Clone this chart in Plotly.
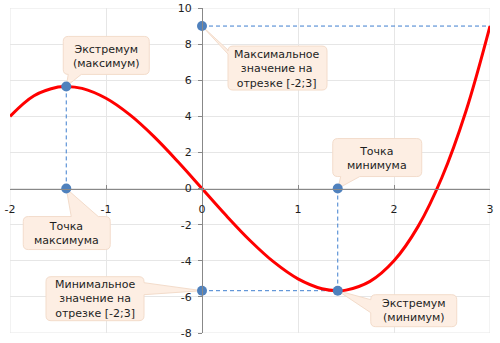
import plotly.graph_objects as go

# Sampled values of the plotted curve on [-2; 3]
curve_x = [-2.0, -1.75, -1.5, -1.414, -1.25, -1.0, -0.75, -0.5, -0.25, 0.0,
           0.25, 0.5, 0.75, 1.0, 1.25, 1.414, 1.5, 1.75, 2.0, 2.25, 2.5, 2.75, 3.0]
curve_y = [4.0, 5.141, 5.625, 5.657, 5.547, 5.0, 4.078, 2.875, 1.484, 0.0,
           -1.484, -2.875, -4.078, -5.0, -5.547, -5.657, -5.625, -5.141, -4.0,
           -2.109, 0.625, 4.297, 9.0]

# Key points
x_max, y_max = -1.414, 5.657      # local maximum
x_min, y_min = 1.414, -5.657      # local minimum
seg_max_x, seg_max_y = 3.0, 9.0   # largest value on the segment
seg_min_y = -5.657                # smallest value on the segment

x_ticks = [-2, -1, 0, 1, 2, 3]
x_tick_text = ["-2", "-1", "0", "1", "2", "3"]
y_ticks = [-8, -6, -4, -2, 0, 2, 4, 6, 8, 10]
y_tick_text = ["-8", "-6", "-4", "-2", "0", "2", "4", "6", "8", "10"]

# Callout texts
labels = {
    "ext_max": "Экстремум<br>(максимум)",
    "pt_max": "Точка<br>максимума",
    "pt_min": "Точка<br>минимума",
    "ext_min": "Экстремум<br>(минимум)",
    "seg_max": "Максимальное<br>значение на<br>отрезке [-2;3]",
    "seg_min": "Минимальное<br>значение на<br>отрезке [-2;3]",
}

BLUE = "#4f81bd"
DASH_BLUE = "#3f7fcf"
FILL = "#fdeee3"
EDGE = "#f3dccb"
TXT = "#1e1e1e"
FONT = "DejaVu Sans"

fig = go.Figure()

# Guide lines
dash = dict(color=DASH_BLUE, width=1, dash="4px,3px")
fig.add_trace(go.Scatter(x=[x_max, x_max], y=[y_max, 0], mode="lines", line=dash, hoverinfo="skip"))
fig.add_trace(go.Scatter(x=[x_min, x_min], y=[0, y_min], mode="lines", line=dash, hoverinfo="skip"))
fig.add_trace(go.Scatter(x=[0, seg_max_x], y=[seg_max_y, seg_max_y], mode="lines", line=dash, hoverinfo="skip"))
fig.add_trace(go.Scatter(x=[0, x_min], y=[seg_min_y, seg_min_y], mode="lines", line=dash, hoverinfo="skip"))

# Curve
fig.add_trace(go.Scatter(x=curve_x, y=curve_y, mode="lines",
                         line=dict(color="#ff0000", width=3, shape="spline", smoothing=1.0)))

# Marked points
pts_x = [x_max, x_max, x_min, x_min, 0, 0]
pts_y = [y_max, 0, 0, y_min, seg_max_y, seg_min_y]
fig.add_trace(go.Scatter(x=pts_x, y=pts_y, mode="markers",
                         marker=dict(color=BLUE, size=10)))


def bubble_path(x0, x1, y0, y1, side, t0, t1, r=5):
    """Rounded box (pixel offsets, y up) with a tail whose tip is at (0, 0)."""
    p = [f"M{x0 + r},{y1}"]
    if side == "top":
        p += [f"L{t0},{y1}", "L0,0", f"L{t1},{y1}"]
    p += [f"L{x1 - r},{y1}", f"Q{x1},{y1} {x1},{y1 - r}"]
    if side == "right":
        p += [f"L{x1},{t1}", "L0,0", f"L{x1},{t0}"]
    p += [f"L{x1},{y0 + r}", f"Q{x1},{y0} {x1 - r},{y0}"]
    if side == "bottom":
        p += [f"L{t1},{y0}", "L0,0", f"L{t0},{y0}"]
    p += [f"L{x0 + r},{y0}", f"Q{x0},{y0} {x0},{y0 + r}"]
    if side == "left":
        p += [f"L{x0},{t0}", "L0,0", f"L{x0},{t1}"]
    p += [f"L{x0},{y1 - r}", f"Q{x0},{y1} {x0 + r},{y1}", "Z"]
    return " ".join(p)


callouts = [
    # anchor x, anchor y, box (x0, x1, y0, y1), tail side, tail base, text offset, key
    (x_max, y_max, (-3, 83, 12, 50), "bottom", (2, 15), (40, 30), "ext_max"),
    (0, seg_max_y, (26, 125, -64, -20), "left", (-28, -24), (75, -43), "seg_max"),
    (x_min, 0, (-5, 84, 12, 50), "bottom", (3, 22), (39, 30), "pt_min"),
    (x_max, 0, (-43, 44, -61, -28), "top", (5, 32), (0, -45), "pt_max"),
    (0, seg_min_y, (-156, -58, -30, 14), "right", (-4, 8), (-107, -8), "seg_min"),
    (x_min, y_min, (33, 119, -36, -4), "left", (-22, -9), (76, -20), "ext_min"),
]

for ax_, ay_, (bx0, bx1, by0, by1), side, (t0, t1), (tx, ty), key in callouts:
    fig.add_shape(type="path", xref="x", yref="y",
                  xsizemode="pixel", ysizemode="pixel",
                  xanchor=ax_, yanchor=ay_,
                  path=bubble_path(bx0, bx1, by0, by1, side, t0, t1),
                  fillcolor=FILL, line=dict(color=EDGE, width=1), layer="between")
    fig.add_annotation(x=ax_, y=ay_, xref="x", yref="y", xshift=tx, yshift=ty,
                       text=labels[key], showarrow=False, align="center",
                       xanchor="center", yanchor="middle",
                       font=dict(family=FONT, size=11, color=TXT))

# Outer frame of the grid
fig.add_shape(type="rect", xref="x", yref="y", x0=-2, x1=3, y0=-8, y1=10,
              line=dict(color="#e6e6e6", width=1), layer="below")

fig.update_layout(
    width=500, height=343,
    margin=dict(l=10, r=10, t=8, b=10, autoexpand=False),
    paper_bgcolor="white", plot_bgcolor="white",
    showlegend=False,
    xaxis=dict(range=[-2, 3], tickvals=x_ticks, ticktext=x_tick_text,
               showgrid=True, gridcolor="#e6e6e6", automargin=False,
               zeroline=False, showline=True, linecolor="#888888", linewidth=1,
               anchor="free", position=8 / 18, ticks="inside", ticklen=4,
               tickcolor="#888888", ticklabelstandoff=10,
               tickfont=dict(family=FONT, size=11, color=TXT)),
    yaxis=dict(range=[-8, 10], tickvals=y_ticks, ticktext=y_tick_text,
               showgrid=True, gridcolor="#e6e6e6", automargin=False,
               zeroline=False, showline=True, linecolor="#888888", linewidth=1,
               anchor="free", position=0.4, ticks="outside", ticklen=4,
               tickcolor="#888888", ticklabelstandoff=4,
               tickfont=dict(family=FONT, size=11, color=TXT)),
)

fig.write_html("out.html")
